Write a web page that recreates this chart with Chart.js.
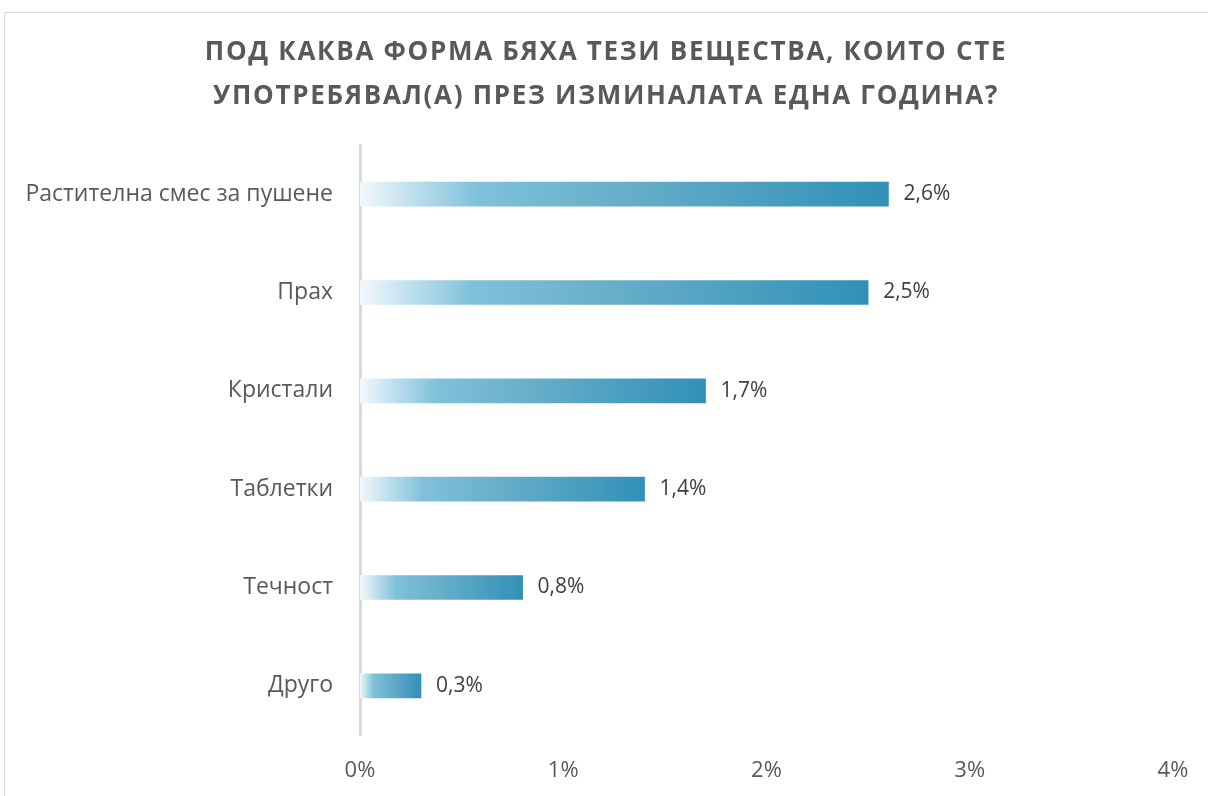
<!DOCTYPE html>
<html lang="bg">
<head>
    <meta charset="UTF-8">
    <title>Форма на употребяваните вещества</title>
    <script src="https://cdn.jsdelivr.net/npm/chart.js"></script>
    <style>
        html, body { margin: 0; padding: 0; background: #fff; overflow: hidden; }
        .frame {
            position: absolute; left: 4px; top: 12px;
            width: 1240px; height: 820px;
            border: 1px solid #d9d9d9;
        }
        .chart-box { position: absolute; left: 0; top: 0; width: 1208px; height: 796px; }
    </style>
</head>
<body>
    <div class="frame"></div>
    <div class="chart-box">
        <canvas id="grafika" width="1208" height="796"></canvas>
    </div>

    <script>
        const kategorii = ['Растителна смес за пушене', 'Прах', 'Кристали', 'Таблетки', 'Течност', 'Друго'];
        const stoinosti = [2.6, 2.5, 1.7, 1.4, 0.8, 0.3];
        const xTikove = [0, 1, 2, 3, 4];

        const zaglavie = ['ПОД КАКВА ФОРМА БЯХА ТЕЗИ ВЕЩЕСТВА, КОИТО СТЕ',
                          'УПОТРЕБЯВАЛ(А) ПРЕЗ ИЗМИНАЛАТА ЕДНА ГОДИНА?'];

        const shrift = "'Open Sans', 'DejaVu Sans', sans-serif";

        // градиент за всяка лента: от бяло до синьо по дължината ѝ
        function gradient(ctx) {
            const chart = ctx.chart;
            if (!chart.chartArea) return '#3292b8';
            const xs = chart.scales.x;
            const x0 = xs.getPixelForValue(0);
            const x1 = xs.getPixelForValue(ctx.raw);
            const g = chart.ctx.createLinearGradient(x0, 0, x1, 0);
            g.addColorStop(0, '#f2f8fc');
            g.addColorStop(0.22, '#80c1da');
            g.addColorStop(0.5, '#67aec9');
            g.addColorStop(1, '#3190b7');
            return g;
        }

        // етикети със стойностите вдясно от лентите
        const etiketi = {
            id: 'etiketi',
            afterDatasetsDraw(chart) {
                const ctx = chart.ctx;
                const meta = chart.getDatasetMeta(0);
                ctx.save();
                ctx.font = '21px ' + shrift;
                ctx.fillStyle = '#404040';
                ctx.textAlign = 'left';
                ctx.textBaseline = 'middle';
                meta.data.forEach((bar, i) => {
                    const txt = stoinosti[i].toFixed(1).replace('.', ',') + '%';
                    ctx.fillText(txt, bar.x + 15, bar.y);
                });
                ctx.restore();
            }
        };

        // заглавие: разредено и центрирано спрямо цялото платно
        const zaglavieRed = {
            id: 'zaglavieRed',
            afterDraw(chart) {
                const ctx = chart.ctx;
                ctx.save();
                ctx.letterSpacing = '1.7px';
                ctx.font = 'bold 26px ' + shrift;
                ctx.fillStyle = '#595959';
                ctx.textAlign = 'center';
                ctx.textBaseline = 'middle';
                zaglavie.forEach((red, i) => {
                    ctx.fillText(red, chart.width / 2 + 2, 53 + i * 44);
                });
                ctx.restore();
            }
        };

        new Chart(document.getElementById('grafika'), {
            type: 'bar',
            data: {
                labels: kategorii,
                datasets: [{
                    data: stoinosti,
                    backgroundColor: gradient,
                    barThickness: 24,
                    borderWidth: 0
                }]
            },
            options: {
                indexAxis: 'y',
                responsive: false,
                animation: false,
                layout: { padding: { left: 0, right: 35, top: 145, bottom: 0 } },
                plugins: {
                    legend: { display: false },
                    tooltip: { enabled: false },
                    title: { display: false }
                },
                scales: {
                    x: {
                        min: 0,
                        max: 4,
                        afterBuildTicks(scale) { scale.ticks = xTikove.map(v => ({ value: v })); },
                        afterFit(scale) { scale.height = 61; },
                        grid: { display: false },
                        border: { display: false },
                        ticks: {
                            padding: 15,
                            color: '#595959',
                            font: { family: shrift, size: 22 },
                            callback: v => v + '%'
                        }
                    },
                    y: {
                        afterFit(scale) { scale.width = 360; },
                        grid: { display: false },
                        border: { display: true, color: '#d9d9d9', width: 3 },
                        ticks: {
                            padding: 19,
                            color: '#595959',
                            font: { family: shrift, size: 23 }
                        }
                    }
                }
            },
            plugins: [etiketi, zaglavieRed]
        });
    </script>
</body>
</html>
